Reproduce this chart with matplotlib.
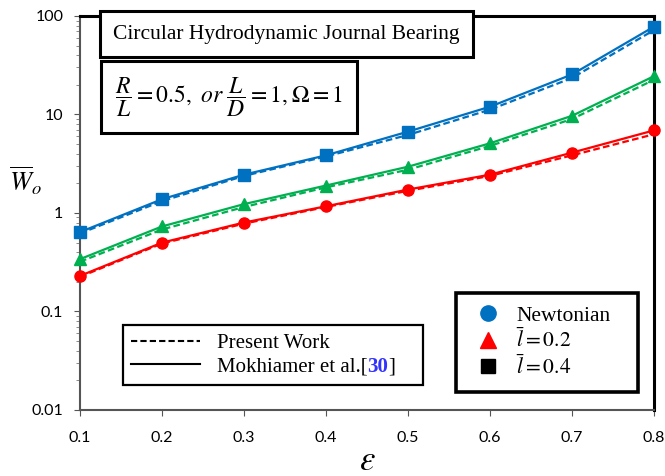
import matplotlib.pyplot as plt
from matplotlib.lines import Line2D

plt.rcParams['mathtext.fontset'] = 'stix'

# eccentricity ratio
eps = [0.1, 0.2, 0.3, 0.4, 0.5, 0.6, 0.7, 0.8]

# load capacity, Mokhiamer et al. (solid) and present work (dashed)
blue_mokh = [0.64, 1.38, 2.45, 3.85, 6.7, 12.0, 25.5, 78]
blue_pres = [0.62, 1.32, 2.38, 3.75, 6.2, 11.2, 23.5, 72]
green_mokh = [0.34, 0.73, 1.23, 1.90, 2.95, 5.1, 9.7, 24.5]
green_pres = [0.32, 0.68, 1.15, 1.82, 2.75, 4.8, 9.0, 22.5]
red_mokh = [0.23, 0.50, 0.80, 1.17, 1.73, 2.45, 4.1, 6.9]
red_pres = [0.225, 0.49, 0.78, 1.15, 1.68, 2.38, 3.85, 6.3]

yticks = [0.01, 0.1, 1, 10, 100]
ytick_labels = ['0.01', '0.1', '1', '10', '100']

BLUE = '#0070C0'
GREEN = '#00B050'
RED = '#FF0000'
serif = 'Liberation Serif'
tickfont = 'Lato'

fig = plt.figure(figsize=(6.65, 4.76), dpi=100)
ax = fig.add_axes([0.1203, 0.1387, 0.8632, 0.8277])

# dashed = present work, solid with markers = Mokhiamer
for mokh, pres, col, mk in [(blue_mokh, blue_pres, BLUE, 's'),
                            (green_mokh, green_pres, GREEN, '^'),
                            (red_mokh, red_pres, RED, 'o')]:
    ax.plot(eps, pres, '--', color=col, lw=1.6, dashes=(3, 1.5), zorder=3)
    ax.plot(eps, mokh, '-', color=col, lw=1.6, marker=mk, ms=8,
            clip_on=False, zorder=4)

ax.set_yscale('log')
ax.set_xlim(0.1, 0.8)
ax.set_ylim(0.01, 100)
ax.set_xticks(eps)
ax.set_xticklabels([f'{v:.1f}' for v in eps], fontfamily=tickfont, fontsize=11.5)
ax.set_yticks(yticks)
ax.set_yticklabels(ytick_labels, fontfamily=tickfont, fontsize=11.5)
ax.tick_params(axis='x', which='major', direction='out', length=4,
               color='#555555', pad=11)
ax.tick_params(axis='y', which='major', direction='out', length=4,
               color='#555555', pad=8)
ax.tick_params(axis='y', which='minor', direction='out', length=3,
               color='#777777')

for s in ['left', 'bottom']:
    ax.spines[s].set_color('#555555')
    ax.spines[s].set_linewidth(1.5)
for s in ['top', 'right']:
    ax.spines[s].set_color('black')
    ax.spines[s].set_linewidth(2.2)

ax.set_xlabel(r'$\varepsilon$', fontsize=25)
ax.xaxis.set_label_coords(0.5, -0.085)
ax.set_ylabel(r'$\overline{W}_o$', fontsize=19, rotation=0)
ax.yaxis.set_label_coords(-0.095, 0.54)

# title boxes
ax.text(0.058, 0.954, 'Circular Hydrodynamic Journal Bearing', transform=ax.transAxes,
        fontfamily=serif, fontsize=15.5, ha='left', va='center', zorder=6,
        bbox=dict(boxstyle='square,pad=0.62', fc='white', ec='black', lw=2.2))
ax.text(0.259, 0.794, r'$\dfrac{R}{L}=0.5,\ or\ \dfrac{L}{D}=1,\Omega=1$',
        transform=ax.transAxes, fontsize=17, ha='center', va='center', zorder=6,
        bbox=dict(boxstyle='square,pad=0.6', fc='white', ec='black', lw=2.2))

# marker legend
mk_handles = [Line2D([], [], ls='none', marker='o', ms=11, color=BLUE),
              Line2D([], [], ls='none', marker='^', ms=11, color=RED),
              Line2D([], [], ls='none', marker='s', ms=10, color='black')]
leg1 = ax.legend(mk_handles, ['Newtonian', r'$\bar{l}=0.2$', r'$\bar{l}=0.4$'],
                 loc='upper left', bbox_to_anchor=(0.655, 0.033, 0.317, 0.264),
                 mode='expand', prop={'family': serif, 'size': 15.5},
                 fancybox=False, framealpha=1, edgecolor='black',
                 borderpad=0.6, borderaxespad=0, labelspacing=0.12,
                 handletextpad=0.4, handlelength=1.8)
leg1.get_frame().set_linewidth(2.6)
ax.add_artist(leg1)

# line style legend; the reference number is appended in blue
ls_handles = [Line2D([], [], ls='--', color='black', lw=1.5, dashes=(3, 1.5)),
              Line2D([], [], ls='-', color='black', lw=1.5)]
leg2 = ax.legend(ls_handles, ['Present Work', 'Mokhiamer et al.['],
                 loc='upper left', bbox_to_anchor=(0.0749, 0.061, 0.523, 0.155),
                 mode='expand', prop={'family': serif, 'size': 15},
                 fancybox=False, framealpha=1, edgecolor='black',
                 borderpad=0.4, borderaxespad=0, labelspacing=0.2,
                 handletextpad=0.8, handlelength=3.3)
leg2.get_frame().set_linewidth(1.6)

t = leg2.get_texts()[1]
ref = ax.annotate('30', xy=(1, 0), xycoords=t, ha='left', va='bottom',
                  fontfamily=serif, fontsize=15, fontweight='bold',
                  color='#3333FF', zorder=10)
ax.annotate(']', xy=(1, 0), xycoords=ref, ha='left', va='bottom',
            fontfamily=serif, fontsize=15, zorder=10)

fig.savefig('out.png', dpi=100)
